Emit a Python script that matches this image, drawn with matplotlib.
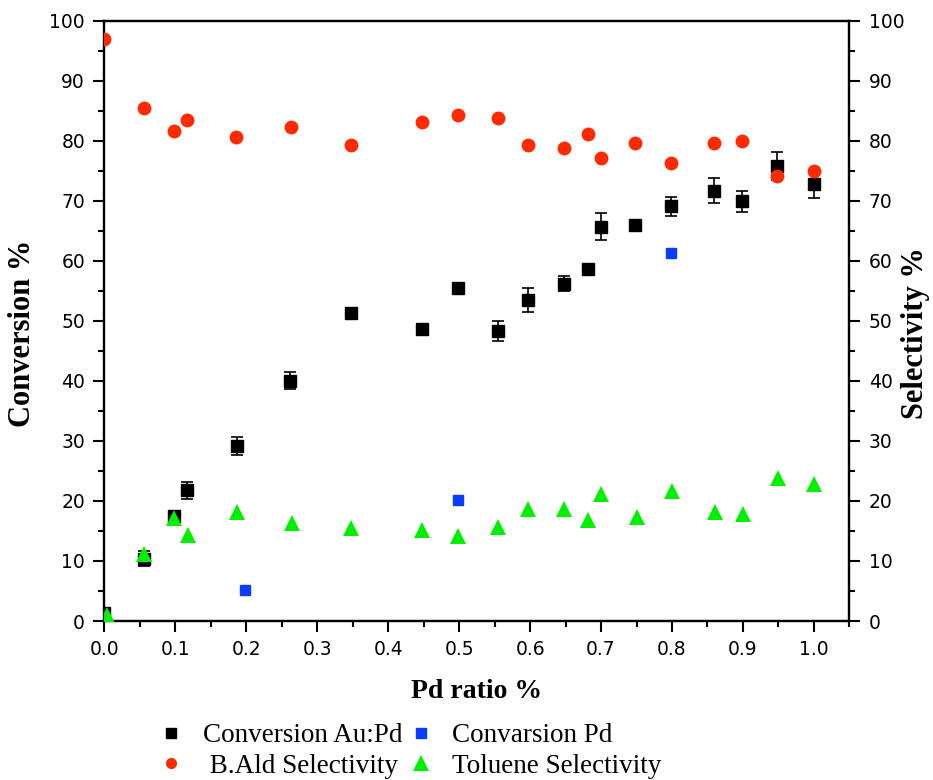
import matplotlib
matplotlib.use("Agg")
import matplotlib.pyplot as plt
from matplotlib.lines import Line2D
from matplotlib.ticker import MultipleLocator

# Conversion over Au:Pd catalysts
conv_x = [0.0, 0.055, 0.098, 0.117, 0.187, 0.262, 0.348, 0.447, 0.499, 0.555,
          0.597, 0.648, 0.682, 0.700, 0.748, 0.798, 0.859, 0.899, 0.948, 1.0]
conv_y = [1.3, 10.4, 17.5, 21.8, 29.2, 40.0, 51.3, 48.6, 55.5, 48.3,
          53.5, 56.2, 58.7, 65.7, 66.0, 69.1, 71.7, 69.9, 75.8, 72.8]
conv_err = [0.5, 1.2, 0.8, 1.4, 1.5, 1.4, 0.8, 0.5, 0.4, 1.7,
            2.0, 1.3, 0.5, 2.3, 0.4, 1.6, 2.1, 1.7, 2.4, 2.4]

# Conversion over monometallic Pd
pd_x = [0.198, 0.499, 0.798]
pd_y = [5.1, 20.2, 61.3]

# Benzaldehyde selectivity
ald_x = [0.0, 0.055, 0.098, 0.117, 0.186, 0.263, 0.348, 0.447, 0.499, 0.555,
         0.597, 0.648, 0.682, 0.700, 0.748, 0.798, 0.859, 0.899, 0.948, 1.0]
ald_y = [97.0, 85.4, 81.7, 83.4, 80.6, 82.3, 79.3, 83.2, 84.3, 83.8,
         79.3, 78.8, 81.2, 77.2, 79.6, 76.3, 79.6, 80.0, 74.2, 75.0]

# Toluene selectivity
tol_x = [0.003, 0.056, 0.098, 0.118, 0.187, 0.265, 0.348, 0.447, 0.499, 0.555,
         0.597, 0.648, 0.682, 0.700, 0.750, 0.800, 0.860, 0.900, 0.950, 1.0]
tol_y = [1.0, 11.2, 17.1, 14.4, 18.1, 16.3, 15.5, 15.2, 14.2, 15.7,
         18.7, 18.7, 16.8, 21.1, 17.4, 21.7, 18.1, 17.9, 23.8, 22.8]

x_ticks = [0.0, 0.1, 0.2, 0.3, 0.4, 0.5, 0.6, 0.7, 0.8, 0.9, 1.0]
y_ticks = [0, 10, 20, 30, 40, 50, 60, 70, 80, 90, 100]

RED = "#ff2a00"
GREEN = "#00f000"
BLUE = "#0a3cff"

serif = ["Liberation Serif", "DejaVu Serif"]

fig = plt.figure(figsize=(9.33, 7.80), dpi=100)
ax = fig.add_axes([0.112, 0.2038, 0.7983, 0.7697])
ax2 = ax.twinx()

ax.errorbar(conv_x, conv_y, yerr=conv_err, fmt="s", color="black",
            markersize=9, ecolor="black", elinewidth=1.2, capsize=4,
            capthick=1.2, zorder=3)
ax.plot(pd_x, pd_y, "s", color=BLUE, markersize=7.5, zorder=3)

ax2.plot(ald_x, ald_y, "o", color=RED, markersize=10, markeredgewidth=0,
         zorder=3)
ax2.plot(tol_x, tol_y, "^", color=GREEN, markersize=12, markeredgewidth=0,
         zorder=4)

for a in (ax, ax2):
    a.set_xlim(0, 1.05)
    a.set_ylim(0, 100)
    a.set_yticks(y_ticks)
    a.yaxis.set_minor_locator(MultipleLocator(5))
    for s in a.spines.values():
        s.set_linewidth(1.6)

ax.set_xticks(x_ticks)
ax.set_xticklabels([f"{v:.1f}" for v in x_ticks])
ax.xaxis.set_minor_locator(MultipleLocator(0.05))

ax.tick_params(axis="both", which="major", direction="out", length=8,
               width=1.5, labelsize=13.5, pad=6, top=False)
ax.tick_params(axis="both", which="minor", direction="out", length=4.5,
               width=1.5, top=False)
ax2.tick_params(axis="y", which="major", direction="out", length=8,
                width=1.5, labelsize=13.5, pad=6)
ax2.tick_params(axis="y", which="minor", direction="out", length=4.5,
                width=1.5)

ax.set_xlabel("Pd ratio %", fontfamily=serif, fontweight="bold",
              fontsize=20, labelpad=14)
ax.set_ylabel("Conversion %", fontfamily=serif, fontweight="bold",
              fontsize=22, va="center")
ax.yaxis.set_label_coords(-0.11, 0.48)
ax2.set_ylabel("Selectivity %", fontfamily=serif, fontweight="bold",
               fontsize=22, rotation=90, va="center")
ax2.yaxis.set_label_coords(1.089, 0.48)

legend_font = {"family": serif, "size": 19.5}
col1 = [Line2D([], [], ls="none", marker="s", color="black", markersize=7),
        Line2D([], [], ls="none", marker="o", color=RED, markersize=8,
               markeredgewidth=0)]
col2 = [Line2D([], [], ls="none", marker="s", color=BLUE, markersize=7),
        Line2D([], [], ls="none", marker="^", color=GREEN, markersize=11,
               markeredgewidth=0)]
common = dict(loc="center left", frameon=False, prop=legend_font,
              handlelength=1.0, handletextpad=0.65, labelspacing=0.22,
              borderpad=0, borderaxespad=0)
fig.legend(col1, ["Conversion Au:Pd", " B.Ald Selectivity"],
           bbox_to_anchor=(0.1693, 0.0372), **common)
fig.legend(col2, ["Convarsion Pd", "Toluene Selectivity"],
           bbox_to_anchor=(0.4362, 0.0372), **common)

fig.savefig("out.png", dpi=100)
